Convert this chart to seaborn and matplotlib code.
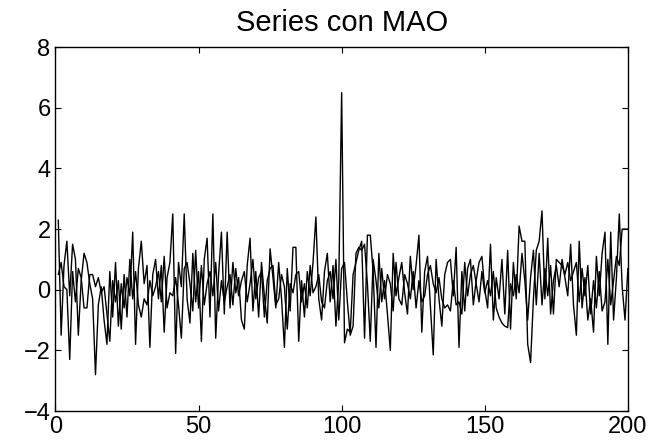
import numpy as np
import pandas as pd
import matplotlib
matplotlib.use("Agg")
import matplotlib.pyplot as plt
import seaborn as sns

# valores (x = 1..200)
serie_a = [
    2.3, -1.5, 0.8, 1.6, -0.2, 1.5, 1.0, -1.5, 0.3, 1.2,
    0.9, 0.2, -0.3, -2.8, -0.5, 0.1, -1.0, -1.8, 0.6, -0.9,
    0.9, -1.2, 0.2, -0.6, 0.4, -0.2, 1.9, -1.8, 0.7, 1.6,
    0.2, 0.8, -1.9, 0.5, 1.0, -0.3, 0.8, -1.4, 0.4, 0.9,
    2.5, -2.1, 0.9, 0.1, 2.5, -0.3, -1.1, 1.2, -0.4, 0.6,
    -1.7, 1.0, 1.7, -0.9, 2.5, -1.6, 0.5, 1.9, -0.8, 1.9,
    -0.6, 0.9, -0.1, 0.4, -1.0, -1.3, 0.8, 1.7, -0.7, 0.6,
    -0.9, 0.9, -0.2, -1.1, 1.35, 0.4, -0.6, 0.9, -0.3, -1.9,
    0.7, -0.7, 1.4, 1.4, -1.7, 0.3, -0.9, 0.6, -0.2, 0.9,
    2.4, -0.3, -1.0, 0.6, 1.2, -0.4, 0.8, -1.2, 0.3, 6.5,
    -1.75, -1.3, -1.4, 0.5, 0.9, 1.3, 1.6, -1.6, 1.8, 1.8,
    0.6, -1.9, 1.2, -0.4, 0.3, -0.8, -2.0, 1.2, -0.2, 0.4,
    0.9, -0.1, -0.8, 1.1, 0.0, 0.8, 1.8, -1.4, 0.6, 1.1,
    -0.5, -2.15, 1.0, -0.3, -1.2, 0.5, 0.9, 1.0, -0.2, 1.4,
    -1.9, 0.6, -0.7, 0.7, 1.0, -0.5, 0.3, 0.9, 1.1, 0.0,
    -0.6, 1.5, -1.0, 0.4, -0.3, 1.0, -0.8, 1.3, -1.3, 0.9,
    -0.3, 2.1, 1.6, 1.6, -1.8, -2.4, -0.3, 1.3, 1.6, 2.6,
    -0.3, 1.7, -0.8, 0.3, 0.8, 0.1, 1.0, 0.4, -0.2, 1.5,
    -0.5, -1.5, 1.6, -0.6, 0.4, -1.0, -0.3, -1.4, 1.1, -0.2,
    1.2, 1.9, -1.8, 1.9, -1.0, 0.4, 2.5, 0.1, -1.0, 0.7,
]
serie_b = [
    0.5, 0.9, 0.1, 0.0, -2.3, 0.6, -0.4, 0.7, 0.4, -0.6,
    -0.6, 0.5, 0.5, 0.1, 0.4, -0.1, 0.1, -0.8, -1.7, 0.3,
    -0.4, 0.3, -1.3, 0.5, -0.9, 1.0, -0.3, 0.6, -0.5, -0.9,
    -0.3, -0.5, 0.3, -0.2, 0.1, 0.6, -0.4, 1.1, -0.6, -0.1,
    -0.2, 0.4, -0.5, -1.6, 0.7, 0.9, 0.2, -0.7, 1.3, -0.6,
    0.8, -0.5, 0.2, 0.6, -0.2, 0.9, -0.7, 0.3, -0.4, 0.1,
    0.5, -0.5, 0.7, -0.2, 0.3, 0.6, -0.4, 0.2, 1.0, -0.3,
    0.4, 0.6, -0.9, 0.3, 0.7, 0.8, -0.5, -0.3, 0.5, 0.1,
    -1.3, 0.2, -0.1, 0.5, 0.6, -0.4, 0.2, -0.6, 0.8, -0.1,
    0.1, 0.5, -0.4, -0.6, 0.3, 0.6, -0.3, 1.0, -1.0, 0.7,
    0.9, -0.4, -1.5, -1.2, 1.2, 1.4, 1.3, 1.5, 0.2, -1.7,
    1.0, 0.3, -0.6, 0.7, -0.3, 0.5, 0.2, -0.7, 0.9, -0.3,
    -0.5, 0.5, 0.2, -0.3, 0.6, -0.6, 0.3, -0.4, -0.2, 0.5,
    0.8, 0.2, -0.1, 0.4, -0.3, -0.6, -0.5, -0.7, 0.3, -0.5,
    -0.4, -0.8, 0.9, -0.2, 0.5, 0.8, 0.2, -0.4, 0.6, -0.1,
    0.3, -0.2, 0.6, -0.6, -0.9, -1.1, -1.2, -1.25, 0.2, -0.2,
    0.5, -0.1, 1.2, 0.3, -1.0, 0.4, 1.3, -0.5, 1.2, -0.5,
    0.7, -0.2, 0.8, -0.8, 1.0, 0.9, 0.8, 0.5, 0.9, 0.3,
    0.6, 0.9, -0.4, 0.7, -0.2, 0.8, -0.8, 0.3, -0.6, 0.6,
    -0.7, -0.4, 1.0, -0.5, 0.3, 1.1, 0.8, 2.0, 2.0, 2.0,
]
x_ticks = [0, 50, 100, 150, 200]
y_ticks = [-4, -2, 0, 2, 4, 6, 8]

sns.set_style("white")
plt.rcParams['font.family'] = ['Liberation Sans', 'DejaVu Sans']

df = pd.DataFrame({
    't': np.arange(1, len(serie_a) + 1),
    'a': serie_a,
    'b': serie_b,
})

fig = plt.figure(figsize=(6.52, 4.41), dpi=100)
ax = fig.add_axes([0.085, 0.068, 0.878, 0.825])
sns.lineplot(data=df, x='t', y='a', color='black', linewidth=1.0, ax=ax)
sns.lineplot(data=df, x='t', y='b', color='black', linewidth=1.0, ax=ax)

ax.set_xlim(0, 200)
ax.set_ylim(-4, 8)
ax.set_xticks(x_ticks)
ax.set_yticks(y_ticks)
ax.set_xlabel('')
ax.set_ylabel('')
ax.set_title('Series con MAO', fontsize=21, pad=12, color='black')
ax.tick_params(direction='in', length=4, width=0.8, labelsize=17,
               top=True, right=True, bottom=True, left=True, colors='black')
for s in ax.spines.values():
    s.set_color('black')
    s.set_linewidth(1.0)

fig.savefig('out.png', dpi=100)
